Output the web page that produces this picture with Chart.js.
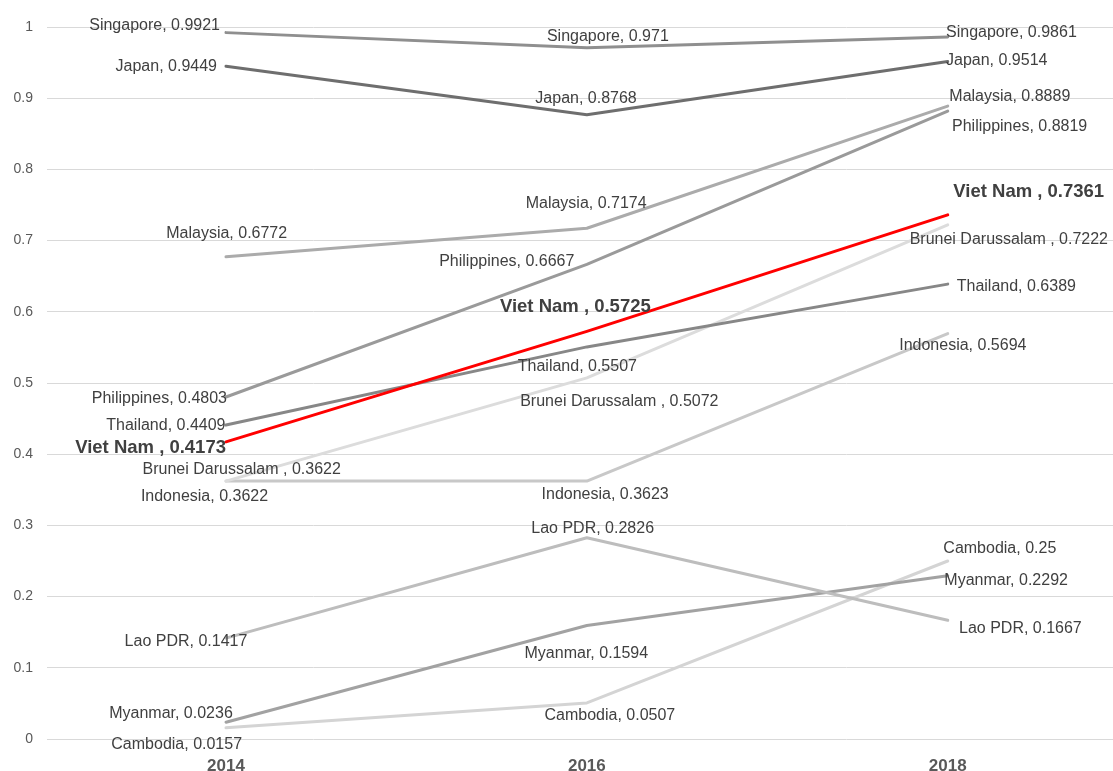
<!DOCTYPE html>
<html>
<head>
<meta charset="utf-8">
<title>ASEAN+ index, 2014–2018</title>
<script src="https://cdn.jsdelivr.net/npm/chart.js@4/dist/chart.umd.min.js"></script>
<style>
  html, body { margin: 0; padding: 0; background: #ffffff; }
  #wrap { width: 1113px; height: 771px; }
</style>
</head>
<body>
<div id="wrap"><canvas id="chart" width="1113" height="771"></canvas></div>
<script>
// Survey years on the horizontal axis
const years = [2014, 2016, 2018];

// Y-axis tick values
const yTicks = [0, 0.1, 0.2, 0.3, 0.4, 0.5, 0.6, 0.7, 0.8, 0.9, 1];

// Country names as they appear in the labels
const countryNames = [
  'Viet Nam ', 'Singapore', 'Japan', 'Malaysia', 'Philippines', 'Thailand',
  'Brunei Darussalam ', 'Indonesia', 'Lao PDR', 'Myanmar', 'Cambodia'
];

// Index values per country (2014, 2016, 2018)
const vietNam     = [0.4173, 0.5725, 0.7361];
const singapore   = [0.9921, 0.971, 0.9861];
const japan       = [0.9449, 0.8768, 0.9514];
const malaysia    = [0.6772, 0.7174, 0.8889];
const philippines = [0.4803, 0.6667, 0.8819];
const thailand    = [0.4409, 0.5507, 0.6389];
const brunei      = [0.3622, 0.5072, 0.7222];
const indonesia   = [0.3622, 0.3623, 0.5694];
const laoPDR      = [0.1417, 0.2826, 0.1667];
const myanmar     = [0.0236, 0.1594, 0.2292];
const cambodia    = [0.0157, 0.0507, 0.25];

const seriesValues = [vietNam, singapore, japan, malaysia, philippines, thailand,
                      brunei, indonesia, laoPDR, myanmar, cambodia];

// Line colours (Viet Nam highlighted, others in greys)
const lineColors = ['#ff0000', '#8f8f8f', '#6e6e6e', '#ababab', '#9a9a9a', '#878787',
                    '#dcdcdc', '#c8c8c8', '#bdbdbd', '#a2a2a2', '#d4d4d4'];

// Where each value label sits relative to its point: [align, dx, dy]
const labelPlacement = [
  [['right', 0, 6.4],    ['center', -11.5, -24.7], ['left', 5.6, -23.2]],   // Viet Nam
  [['right', -6, -6.6],  ['center', 21, -11],      ['left', -1.7, -4.6]],   // Singapore
  [['right', -9, 0.5],   ['center', -0.8, -16.4],  ['left', -1.7, -0.6]],   // Japan
  [['center', 0.7, -23.5], ['center', -0.7, -24.2], ['left', 1.6, -9.4]],   // Malaysia
  [['right', 1, 1.3],    ['right', -12.5, -3],     ['left', 4.3, 15.6]],    // Philippines
  [['right', -0.5, 0.6], ['center', -9.5, 19.8],   ['left', 9, 2.6]],       // Thailand
  [['center', 15.7, -12], ['center', 32.5, 23.8],  ['center', 61.1, 14.5]], // Brunei
  [['center', -21.5, 15.6], ['center', 18.3, 14],  ['center', 15.1, 12.4]], // Indonesia
  [['center', -40, 3.6], ['center', 5.8, -8.8],    ['left', 11.3, 8]],      // Lao PDR
  [['center', -55, -9],  ['center', -0.5, 27.8],   ['left', -3.4, 5.2]],    // Myanmar
  [['center', -49.3, 17.2], ['center', 23, 12.8],  ['left', -4.4, -12]]     // Cambodia
];

const FONT = '"Liberation Sans", Arial, Helvetica, sans-serif';

const datasets = countryNames.map((name, i) => ({
  label: name,
  data: years.map((yr, j) => ({ x: yr, y: seriesValues[i][j] })),
  borderColor: lineColors[i],
  backgroundColor: lineColors[i],
  borderWidth: 3,
  borderCapStyle: 'round',
  borderJoinStyle: 'round',
  pointRadius: 0,
  pointHoverRadius: 0,
  tension: 0,
  fill: false,
  highlight: i === 0
}));

// Draws "Name, value" next to every point
const valueLabels = {
  id: 'valueLabels',
  afterDatasetsDraw(chart) {
    const ctx = chart.ctx;
    ctx.save();
    ctx.textBaseline = 'middle';
    chart.data.datasets.forEach((ds, i) => {
      const meta = chart.getDatasetMeta(i);
      meta.data.forEach((pt, j) => {
        const [align, dx, dy] = labelPlacement[i][j];
        const text = countryNames[i] + ', ' + String(seriesValues[i][j]);
        ctx.font = ds.highlight ? 'bold 18.5px ' + FONT : '16px ' + FONT;
        ctx.fillStyle = '#404040';
        ctx.textAlign = align;
        ctx.fillText(text, pt.x + dx, pt.y + dy);
      });
    });
    ctx.restore();
  }
};

new Chart(document.getElementById('chart'), {
  type: 'line',
  data: { datasets },
  plugins: [valueLabels],
  options: {
    responsive: false,
    devicePixelRatio: 1,
    animation: false,
    layout: { padding: { top: 27, right: 0, bottom: 0, left: 0 } },
    plugins: {
      legend: { display: false },
      tooltip: { enabled: false },
      title: { display: false }
    },
    scales: {
      x: {
        type: 'linear',
        min: 2013.008,
        max: 2018.916,
        afterBuildTicks(scale) { scale.ticks = years.map(v => ({ value: v })); },
        afterFit(scale) { scale.height = 32; },
        grid: { display: false, drawTicks: false },
        border: { display: false },
        ticks: {
          padding: 17,
          color: '#595959',
          font: { family: FONT, size: 17, weight: 'bold' },
          callback: v => String(v)
        }
      },
      y: {
        min: 0,
        max: 1,
        afterBuildTicks(scale) { scale.ticks = yTicks.map(v => ({ value: v })); },
        afterFit(scale) { scale.width = 47; },
        grid: { color: '#d9d9d9', lineWidth: 1, drawTicks: false },
        border: { display: false },
        ticks: {
          padding: 14,
          color: '#595959',
          font: { family: FONT, size: 14 },
          callback: v => String(Number(v.toFixed(1)))
        }
      }
    }
  }
});
</script>
</body>
</html>
